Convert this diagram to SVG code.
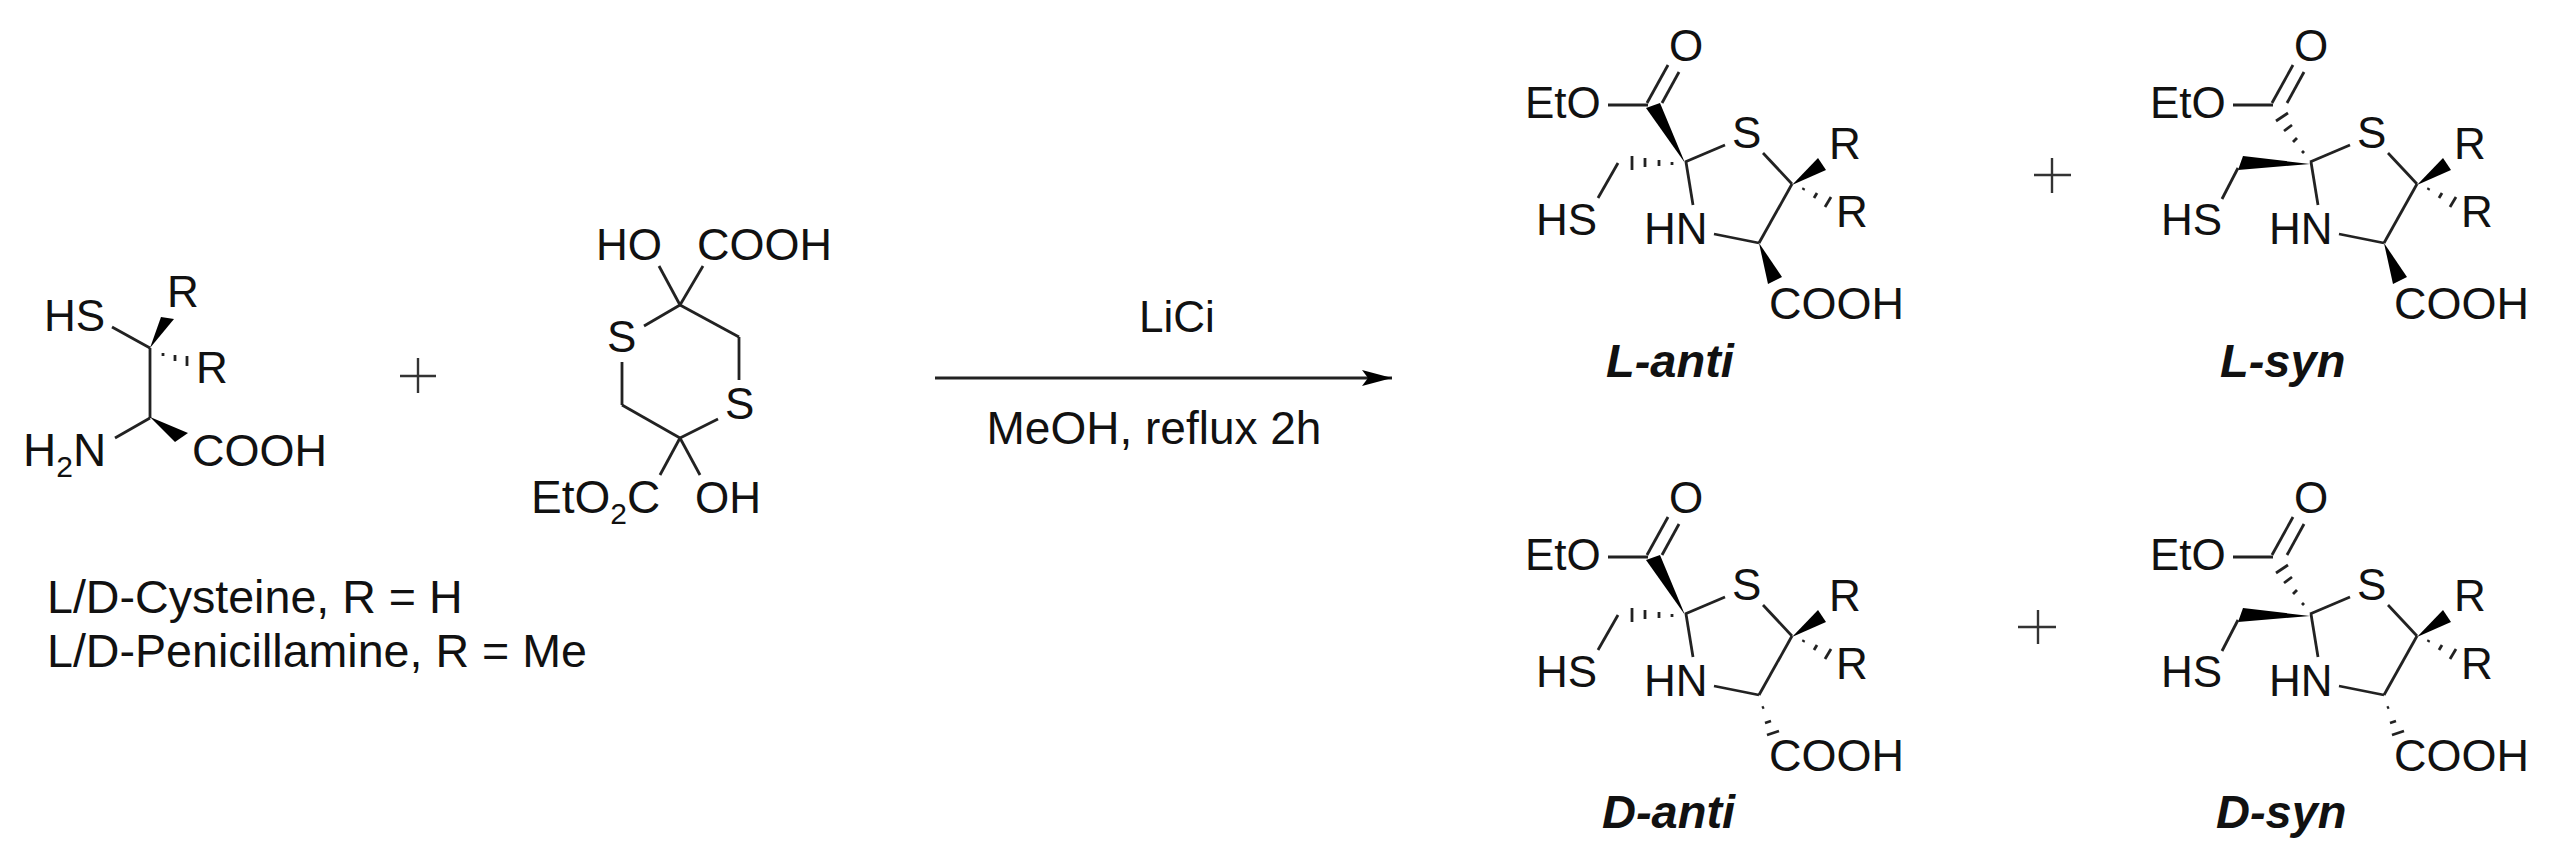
<svg xmlns="http://www.w3.org/2000/svg" xmlns:xlink="http://www.w3.org/1999/xlink" width="2556" height="860" viewBox="0 0 2556 860">
<style>
text{font-family:"Liberation Sans",Arial,sans-serif;font-size:44px;fill:#111}
.lbl{font-weight:bold;font-style:italic;font-size:47px}
.sub{font-size:30px}
.c{font-size:45px}
.cap{font-size:46.6px}
.big{font-size:46px}
line,.b{stroke:#222;stroke-width:2.8;fill:none}
.w{fill:#000;stroke:none}
.p{stroke:#333;stroke-width:2.4}
</style>
<defs>
<marker id="head" markerUnits="userSpaceOnUse" markerWidth="32" markerHeight="20" refX="30" refY="10" orient="auto"><path d="M0 2L30 10L0 18L6 10Z" fill="#000"/></marker>
<g id="core">
<line x1="1608" y1="105" x2="1648" y2="105"/>
<line x1="1647" y1="103" x2="1668" y2="65"/>
<line x1="1662" y1="103" x2="1679" y2="72"/>
<line x1="1685" y1="162" x2="1725" y2="145"/>
<line x1="1763" y1="153" x2="1792" y2="184"/>
<line x1="1792" y1="184" x2="1759" y2="243"/>
<line x1="1759" y1="243" x2="1714" y2="234"/>
<line x1="1686" y1="162" x2="1693" y2="205"/>
<polygon class="w" points="1792,185 1818,158 1826,170"/>
<line x1="1804" y1="188" x2="1803" y2="190"/>
<line x1="1817" y1="193" x2="1814" y2="198"/>
<line x1="1831" y1="197" x2="1825" y2="207"/>
</g>
<g id="anti-c2">
<polygon class="w" points="1685,163 1646,108 1660,103"/>
<line x1="1672" y1="162" x2="1672" y2="165"/>
<line x1="1659" y1="160" x2="1659" y2="166"/>
<line x1="1645" y1="158" x2="1645" y2="167"/>
<line x1="1632" y1="156" x2="1632" y2="170"/>
<line x1="1618" y1="163" x2="1598" y2="198"/>
</g>
<g id="syn-c2">
<polygon class="w" points="1685,164 1618,156 1613,170"/>
<line x1="1613" y1="168" x2="1597" y2="199"/>
<line x1="1651" y1="121" x2="1663" y2="113"/>
<line x1="1659" y1="131" x2="1667" y2="125"/>
<line x1="1668" y1="142" x2="1672" y2="138"/>
<line x1="1677" y1="153" x2="1679" y2="151"/>
</g>
<polygon id="cooh-wedge" class="w" points="1759,243 1768,284 1782,277"/>
<g id="cooh-hash">
<line x1="1762" y1="256" x2="1764" y2="255"/>
<line x1="1765" y1="271" x2="1771" y2="269"/>
<line x1="1767" y1="283" x2="1779" y2="279"/>
</g>
</defs>

<g id="reactant-amino-acid">
<line x1="112" y1="327" x2="150" y2="348"/>
<line x1="150" y1="348" x2="150" y2="418"/>
<line x1="115" y1="438" x2="150" y2="418"/>
<polygon class="w" points="150,348 161,317 174,319"/>
<polygon class="w" points="150,417 175,442 188,433"/>
<line x1="163" y1="353" x2="163" y2="356"/>
<line x1="175" y1="355" x2="175" y2="361"/>
<line x1="187" y1="356" x2="187" y2="366"/>
<text x="44" y="331">HS</text>
<text x="167" y="307">R</text>
<text x="196" y="383">R</text>
<text class="big" x="23" y="466">H<tspan class="sub" dy="11">2</tspan><tspan dy="-11">N</tspan></text>
<text class="c" x="192" y="466">COOH</text>
</g>

<g id="plus-1"><line class="p" x1="400" y1="376" x2="436" y2="376"/><line class="p" x1="418" y1="358" x2="418" y2="393"/></g>

<g id="reactant-dithiane">
<line x1="680" y1="305" x2="659" y2="266"/>
<line x1="680" y1="305" x2="703" y2="266"/>
<line x1="680" y1="305" x2="644" y2="326"/>
<line x1="680" y1="305" x2="739" y2="337"/>
<line x1="739" y1="337" x2="739" y2="380"/>
<line x1="622" y1="362" x2="622" y2="405"/>
<line x1="622" y1="405" x2="680" y2="438"/>
<line x1="680" y1="438" x2="718" y2="419"/>
<line x1="680" y1="438" x2="660" y2="475"/>
<line x1="680" y1="438" x2="700" y2="475"/>
<text x="596" y="260">HO</text>
<text class="c" x="697" y="260">COOH</text>
<text x="607" y="352">S</text>
<text x="725" y="419">S</text>
<text class="big" x="531" y="513">EtO<tspan class="sub" dy="11">2</tspan><tspan dy="-11">C</tspan></text>
<text x="695" y="513">OH</text>
</g>

<g id="reactant-caption">
<text class="cap" x="47" y="613">L/D-Cysteine, R = H</text>
<text class="cap" x="47" y="667">L/D-Penicillamine, R = Me</text>
</g>

<g id="connectors">
<line x1="935" y1="378" x2="1392" y2="378" stroke="#333" marker-end="url(#head)"/>
</g>
<g id="reaction-conditions">
<text x="1177" y="332" text-anchor="middle">LiCi</text>
<text class="big" x="1154" y="444" text-anchor="middle">MeOH, reflux 2h</text>
</g>

<g id="L-anti">
<use href="#core"/><use href="#anti-c2"/><use href="#cooh-wedge"/>
<text x="1669" y="61">O</text><text x="1525" y="118">EtO</text><text x="1732" y="148">S</text>
<text x="1829" y="159">R</text><text x="1836" y="227">R</text>
<text x="1536" y="235">HS</text><text x="1644" y="244">HN</text><text class="c" x="1769" y="319">COOH</text>
<text class="lbl" x="1606" y="377">L-anti</text>
</g>

<g id="plus-2"><line class="p" x1="2034" y1="175" x2="2071" y2="175"/><line class="p" x1="2052" y1="158" x2="2052" y2="193"/></g>

<g id="L-syn">
<g transform="translate(625 0)"><use href="#core"/><use href="#syn-c2"/><use href="#cooh-wedge"/></g>
<text x="2294" y="61">O</text><text x="2150" y="118">EtO</text><text x="2357" y="148">S</text>
<text x="2454" y="159">R</text><text x="2461" y="227">R</text>
<text x="2161" y="235">HS</text><text x="2269" y="244">HN</text><text class="c" x="2394" y="319">COOH</text>
<text class="lbl" x="2220" y="377">L-syn</text>
</g>

<g id="D-anti">
<g transform="translate(0 452)"><use href="#core"/><use href="#anti-c2"/><use href="#cooh-hash"/></g>
<text x="1669" y="513">O</text><text x="1525" y="570">EtO</text><text x="1732" y="600">S</text>
<text x="1829" y="611">R</text><text x="1836" y="679">R</text>
<text x="1536" y="687">HS</text><text x="1644" y="696">HN</text><text class="c" x="1769" y="771">COOH</text>
<text class="lbl" x="1602" y="828">D-anti</text>
</g>

<g id="plus-3"><line class="p" x1="2018" y1="627" x2="2056" y2="627"/><line class="p" x1="2038" y1="610" x2="2038" y2="644"/></g>

<g id="D-syn">
<g transform="translate(625 452)"><use href="#core"/><use href="#syn-c2"/><use href="#cooh-hash"/></g>
<text x="2294" y="513">O</text><text x="2150" y="570">EtO</text><text x="2357" y="600">S</text>
<text x="2454" y="611">R</text><text x="2461" y="679">R</text>
<text x="2161" y="687">HS</text><text x="2269" y="696">HN</text><text class="c" x="2394" y="771">COOH</text>
<text class="lbl" x="2216" y="828">D-syn</text>
</g>
</svg>
